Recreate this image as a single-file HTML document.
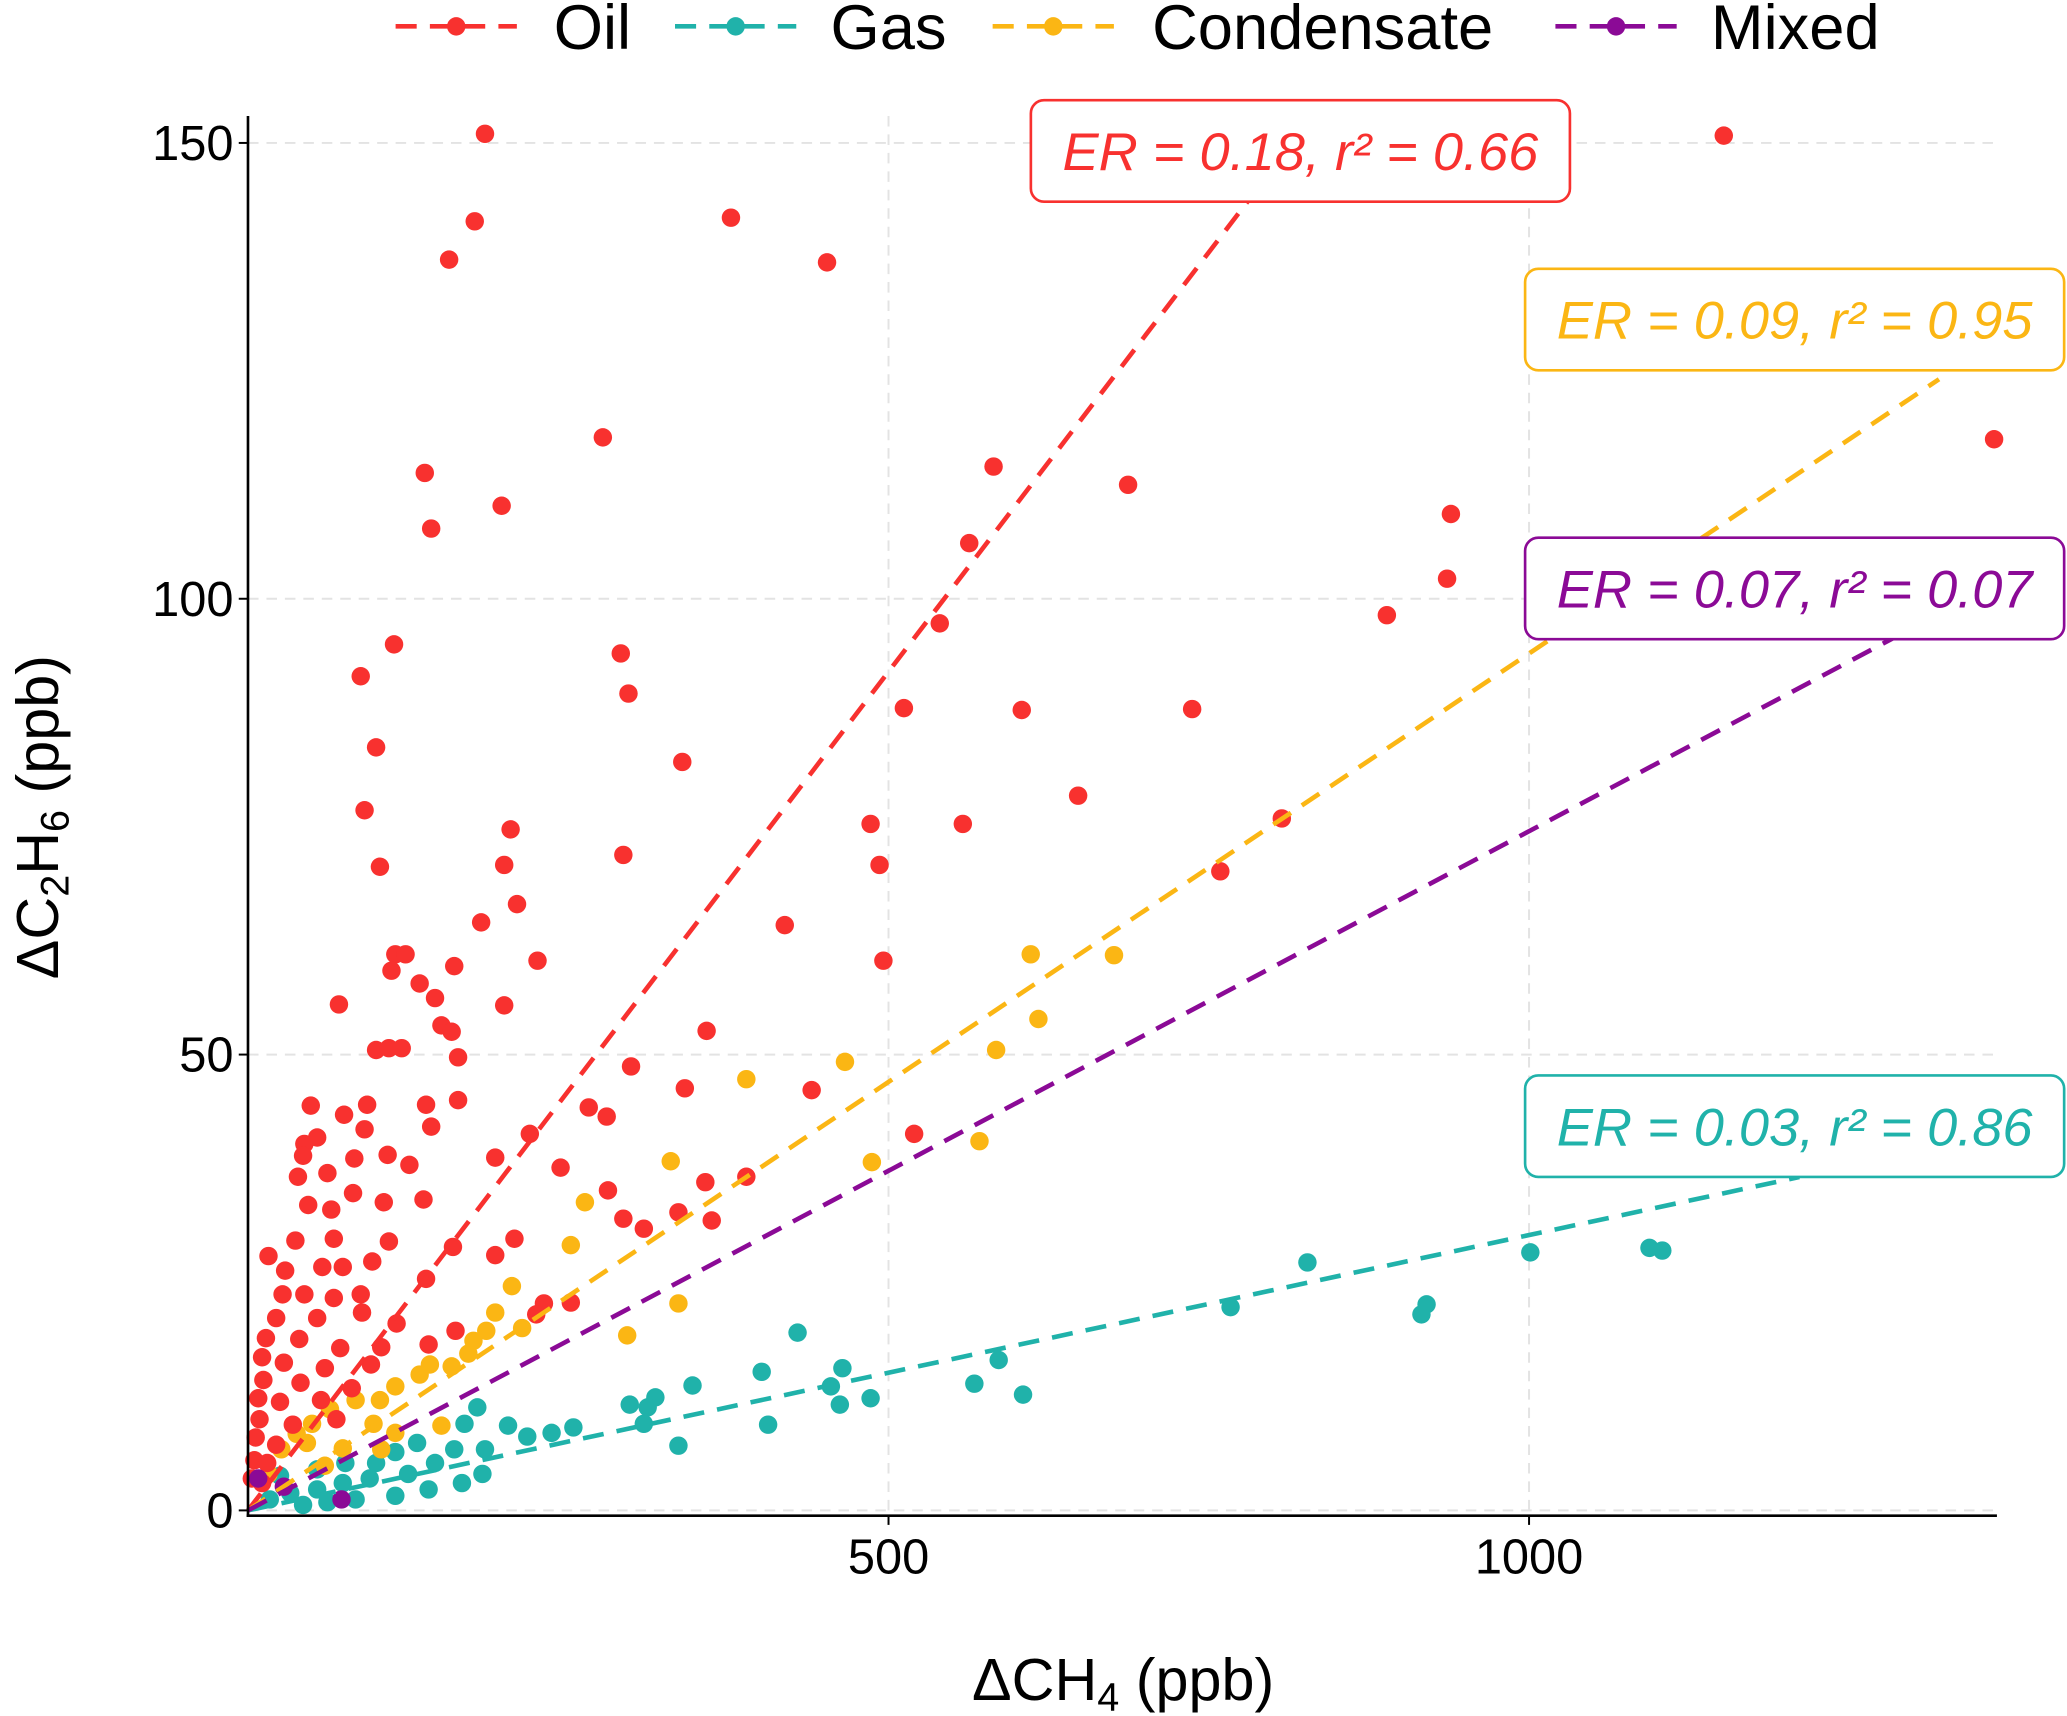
<!DOCTYPE html>
<html><head><meta charset="utf-8"><style>
html,body{margin:0;padding:0;background:#fff;}
svg{display:block;font-family:"Liberation Sans",Arial,sans-serif;}
</style></head><body>
<svg id="chart" width="2067" height="1716" viewBox="0 0 1568 1302" xmlns="http://www.w3.org/2000/svg">
<g id="grid"></g>
<g id="points"></g>
<g id="fits"></g>
<g id="axes"></g>
<g id="labels"></g>
<g id="legend"></g>
<text x="852" y="1290" font-size="45" text-anchor="middle">ΔCH<tspan font-size="30" dy="8">4</tspan><tspan dy="-8"> (ppb)</tspan></text>
<text transform="translate(44,620) rotate(-90)" font-size="45" text-anchor="middle">ΔC<tspan font-size="30" dy="8">2</tspan><tspan dy="-8">H</tspan><tspan font-size="30" dy="8">6</tspan><tspan dy="-8"> (ppb)</tspan></text>
</svg>
<script>
const xTicks=[500,1000];
const yTicks=[0,50,100,150];
const oilX=[185,177,157,377,452,1152,1363,277,138,198,143,582,687,939,936,889,563,540,114,88,291,297,512,604,737,100,339,91,205,648,486,558,807,103,200,293,493,759,210,182,419,115,123,496,226,112,161,71,200,134,146,151,159,358,100,110,120,164,299,49,75,93,139,164,341,440,266,280,44,54,91,143,220,520,43,83,109,126,193,244,39,62,82,106,137,281,357,389,47,65,293,336,309,362,37,67,110,160,208,193,16,29,58,74,97,139,27,44,67,88,231,22,54,89,116,162,252,225,14,40,72,104,141,11,28,60,96,12,41,81,8,25,57,9,35,69,6,22,5,15,3,11];
const oilY=[151,141.4,137.2,141.8,136.9,150.8,117.5,117.7,113.8,110.2,107.7,114.5,112.5,109.3,102.2,98.2,106.1,97.3,95,91.5,94,89.6,88,87.8,87.9,83.7,82.1,76.8,74.7,78.4,75.3,75.3,75.9,70.6,70.8,71.9,70.8,70.1,66.5,64.5,64.2,61,61,60.3,60.3,59.2,59.7,55.5,55.4,57.8,56.2,53.2,52.5,52.6,50.5,50.7,50.7,49.7,48.7,44.4,43.4,44.5,44.5,45,46.3,46.1,44.2,43.2,40.2,40.9,41.8,42.1,41.3,41.3,38.9,38.6,39,37.9,38.7,37.6,36.6,37,34.8,33.8,34.1,35.1,36,36.6,33.5,33,32,32.7,30.9,31.8,29.6,29.8,29.5,28.9,29.8,28,27.9,26.3,26.7,26.7,27.3,25.4,23.7,23.7,23.3,23.7,22.7,21.1,21.1,21.7,20.5,19.7,22.8,21.5,18.9,18.8,17.8,17.9,18.2,16.8,16.2,15.6,16,14.3,14,13.4,12.3,11.9,12.1,10,9.4,10,8,7.2,5.5,5.2,3.5,3];
const condX=[611,676,617,584,466,389,571,330,487,263,252,206,336,193,186,296,176,214,172,159,142,134,115,103,84,64,50,38,98,115,26,74,46,16,60,104,151];
const condY=[61,60.9,53.9,50.5,49.2,47.3,40.5,38.3,38.2,33.8,29.1,24.6,22.7,21.7,19.7,19.2,18.6,20,17.2,15.8,16,14.9,13.6,12.1,12.1,11.1,9.5,8.4,9.5,8.5,6.7,6.8,7.4,4,4.9,6.7,9.3];
const gasX=[1001,1094,1104,827,920,916,767,429,401,464,586,455,567,605,486,462,347,318,298,312,309,406,336,254,237,218,203,179,169,185,161,132,115,146,125,95,74,54,33,17,141,115,84,62,43,100,76,54,25,167,183];
const gasY=[28.3,28.8,28.5,27.2,22.6,21.5,22.3,19.5,15.2,15.6,16.5,13.6,13.9,12.7,12.3,11.6,13.7,12.4,11.6,11.3,9.5,9.4,7.1,9.1,8.5,8.1,9.3,11.3,9.5,6.7,6.7,7.4,6.4,5.2,4,3.5,3,2.3,1.9,1.2,2.3,1.6,1.2,0.9,0.6,5.2,5.2,4.5,3.8,3,4];
const mixX=[8,73,28];
const mixY=[3.5,1.2,2.6];
const fitNames=["Oil","Gas","Condensate","Mixed"];
const fitSlopes=[0.184,0.0302,0.094,0.0745];
const fitXMax=[830,1211,1320,1288];
const fitLabels=["ER = 0.18, r² = 0.66","ER = 0.03, r² = 0.86","ER = 0.09, r² = 0.95","ER = 0.07, r² = 0.07"];

const NS="http://www.w3.org/2000/svg";
const X0=188,XS=0.972,Y0=1146,YS=6.917;
const sx=v=>X0+v*XS, sy=v=>Y0-v*YS;
const colors={Oil:"#f8312f",Gas:"#20b2aa",Condensate:"#fbb614",Mixed:"#8b0a96"};
function mk(tag,attrs,parent){const e=document.createElementNS(NS,tag);for(const k in attrs)e.setAttribute(k,attrs[k]);parent.appendChild(e);return e;}
const grid=document.getElementById('grid'),axes=document.getElementById('axes');
xTicks.forEach(t=>{
  const l=mk('line',{x1:sx(t),x2:sx(t),y1:88,y2:1150,stroke:'#e3e3e3','stroke-width':1.5,'stroke-dasharray':'8,6'},grid);
  
  
  const tx=mk('text',{x:sx(t),y:1194,'font-size':37,'text-anchor':'middle'},axes);
  tx.textContent=t;
  
  
  mk('line',{x1:sx(t),x2:sx(t),y1:1150,y2:1157,stroke:'#000','stroke-width':1.5},axes);
});
yTicks.forEach(t=>{
  const l=mk('line',{x1:188,x2:1515,y1:sy(t),y2:sy(t),stroke:'#e3e3e3','stroke-width':1.5,'stroke-dasharray':'8,6'},grid);
  
  
  const tx=mk('text',{x:177,y:sy(t)+13,'font-size':37,'text-anchor':'end'},axes);
  tx.textContent=t;
  
  
  mk('line',{x1:181,x2:188,y1:sy(t),y2:sy(t),stroke:'#000','stroke-width':1.5},axes);
});
const ax=mk('line',{x1:187,x2:1515,y1:1150,y2:1150,stroke:'#000','stroke-width':2},axes);


const ay=mk('line',{x1:188,x2:188,y1:88,y2:1151,stroke:'#000','stroke-width':2},axes);



const pts=document.getElementById('points');
function drawSeries(xs,ys,name){xs.forEach((x,i)=>{
  const c=mk('circle',{cx:sx(x),cy:sy(ys[i]),r:7,fill:colors[name]},pts);
  
  
});}
drawSeries(gasX,gasY,'Gas');
drawSeries(condX,condY,'Condensate');
drawSeries(oilX,oilY,'Oil');
drawSeries(mixX,mixY,'Mixed');

const fits=document.getElementById('fits');
fitNames.forEach((n,i)=>{
  const l=mk('line',{x1:sx(0),y1:sy(0),x2:sx(fitXMax[i]),y2:sy(fitSlopes[i]*fitXMax[i]),stroke:colors[n],'stroke-width':3.5,'stroke-dasharray':'16,10'},fits);
  
  
});
const labs=document.getElementById('labels');
const boxes={Oil:[782,76],Gas:[1157,816],Condensate:[1157,204],Mixed:[1157,408]};
fitNames.forEach((n,i)=>{
  const [bx,by]=boxes[n];const w=409;
  const r=mk('rect',{x:bx,y:by,width:w,height:77,rx:10,fill:'#fff',stroke:colors[n],'stroke-width':2},labs);
  
  
  const t=mk('text',{x:bx+24,y:by+53,'font-size':40,'font-style':'italic',fill:colors[n],textLength:361,lengthAdjust:'spacingAndGlyphs'},labs);
  t.textContent=fitLabels[i];
  
  
});
const leg=document.getElementById('legend');
const legX=[[300,420],[512,630],[753,874],[1180,1298]];
fitNames.forEach((n,i)=>{
  const [lx,tx]=legX[i];
  const g=mk('g',{},leg);
  
  
  mk('line',{x1:lx,x2:lx+92,y1:20,y2:20,stroke:colors[n],'stroke-width':3.5,'stroke-dasharray':'16,10'},g);
  mk('circle',{cx:lx+46,cy:20,r:7,fill:colors[n]},g);
  const t=mk('text',{x:tx,y:37,'font-size':48},g);
  t.textContent=n;
});
</script>
</body></html>
